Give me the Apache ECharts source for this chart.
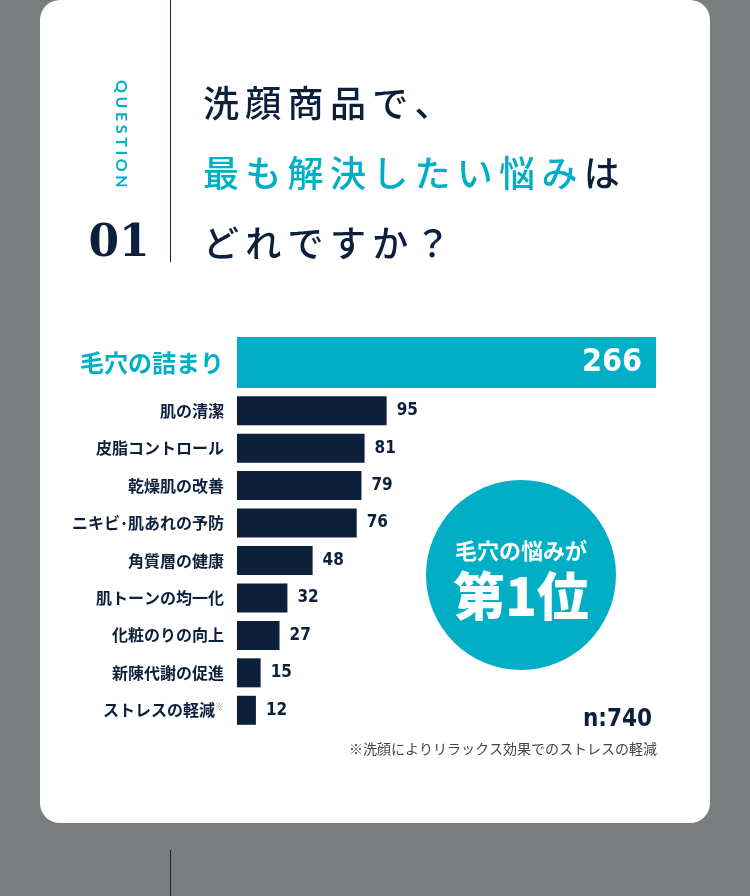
<!DOCTYPE html>
<html><head><meta charset="utf-8">
<script src="https://cdn.jsdelivr.net/npm/echarts@6/dist/echarts.min.js"></script>
<style>html,body{margin:0;padding:0;background:#7a7d7e;}#c{width:750px;height:896px;}</style>
</head><body><div id="c"></div>
<script>
const topCategory = ['毛穴の詰まり'];
const topValue = [266];
const categories = ['肌の清潔','皮脂コントロール','乾燥肌の改善','ニキビ･肌あれの予防','角質層の健康','肌トーンの均一化','化粧のりの向上','新陳代謝の促進','ストレスの軽減※'];
const values = [95,81,79,76,48,32,27,15,12];
const sampleSize = 'n:740';
const footnote = '※洗顔によりリラックス効果でのストレスの軽減';
const questionLabel = 'QUESTION';
const questionNo = '01';
const titleLines = [
  [['洗顔商品で、','navy']],
  [['最も解決したい悩み','teal'],['は','navy']],
  [['どれですか？','navy']]
];
const badgeLines = ['毛穴の悩みが','第1位'];

const TEAL = '#00afc5', NAVY = '#0c1f3b';
const CJK = '"Noto Sans CJK JP", "Noto Sans", sans-serif';
const NARROW = '"DejaVu Sans", sans-serif';
const NARROW_W = 'bold condensed';

const cv = document.createElement('canvas').getContext('2d');
function spaced(str, x, y, font, size, weight, color, spacing, rot) {
  cv.font = weight + ' ' + size + 'px ' + font;
  const els = [];
  let off = 0;
  for (const ch of str) {
    const w = cv.measureText(ch).width;
    const px = rot ? x : x + off;
    const py = rot ? y + off : y;
    els.push({type:'text', x:px, y:py, rotation: rot || 0, z:5,
      style:{text:ch, fill:color, font: weight + ' ' + size + 'px ' + font, align:'left', verticalAlign:'middle'}});
    off += w + spacing;
  }
  return {els, end: off};
}

const graphic = [];
graphic.push({type:'rect', shape:{x:40,y:0,width:670,height:823,r:20}, style:{fill:'#ffffff'}, z:0});
graphic.push({type:'line', shape:{x1:170.5,y1:0,x2:170.5,y2:262}, style:{stroke:NAVY,lineWidth:1}, z:1});
graphic.push({type:'line', shape:{x1:170.5,y1:850,x2:170.5,y2:896}, style:{stroke:NAVY,lineWidth:1}, z:1});
graphic.push(...spaced(questionLabel, 121, 80, 'Lato, "Noto Sans", sans-serif', 16, 'bold', TEAL, 3.6, -Math.PI/2).els);
graphic.push({type:'text', x:119, y:245, z:5, style:{text:questionNo, fill:NAVY, font:'bold 44px "DejaVu Serif", serif', align:'center', verticalAlign:'middle'}});
const lineY = [103, 173, 243];
titleLines.forEach((segs, i) => {
  let x = 203;
  segs.forEach(([s, c]) => {
    const r = spaced(s, x, lineY[i], CJK, 36, '500', c === 'teal' ? TEAL : NAVY, 6.3, 0);
    graphic.push(...r.els);
    x += r.end;
  });
});
graphic.push({type:'circle', shape:{cx:521,cy:575,r:95}, style:{fill:TEAL}, z:3});
graphic.push({type:'text', x:521, y:551, z:5, style:{text:badgeLines[0], fill:'#fff', font:'bold 22px ' + CJK, align:'center', verticalAlign:'middle'}});
graphic.push({type:'text', x:521, y:596, z:5, style:{text:badgeLines[1], fill:'#fff', font:'900 52px ' + CJK, align:'center', verticalAlign:'middle'}});
graphic.push({type:'text', x:652, y:720, z:5, style:{text:sampleSize, fill:NAVY, font:NARROW_W + ' 24px ' + NARROW, align:'right', verticalAlign:'middle'}});
graphic.push({type:'text', x:657, y:749, z:5, style:{text:footnote, fill:'#444', font:'14px ' + CJK, align:'right', verticalAlign:'middle'}});

const chart = echarts.init(document.getElementById('c'));
chart.setOption({
  backgroundColor:'#7a7d7e',
  animation:false,
  graphic: graphic,
  grid:[{left:237, top:337, width:419, height:51},{left:237, top:392, width:419, height:337}],
  xAxis:[
    {gridIndex:0, type:'value', min:0, max:266, show:false},
    {gridIndex:1, type:'value', min:0, max:266, show:false}
  ],
  yAxis:[
    {gridIndex:0, type:'category', data:topCategory, axisLine:{show:false}, axisTick:{show:false},
     axisLabel:{color:TEAL, fontSize:24, fontWeight:'bold', fontFamily:CJK, margin:13}},
    {gridIndex:1, type:'category', data:categories, inverse:true, axisLine:{show:false}, axisTick:{show:false},
     axisLabel:{color:NAVY, fontSize:16, fontWeight:'bold', fontFamily:CJK, margin:13,
       formatter: v => v.endsWith('※') ? v.slice(0,-1) + '{n|※}' : v,
       rich:{n:{fontSize:9, color:'#999', verticalAlign:'top', padding:[0,0,8,0], fontFamily:CJK}}}}
  ],
  series:[
    {type:'bar', xAxisIndex:0, yAxisIndex:0, data:topValue, barWidth:51, itemStyle:{color:TEAL},
     label:{show:true, position:'insideRight', distance:14, color:'#fff', fontSize:32, fontWeight:NARROW_W, fontFamily:NARROW}},
    {type:'bar', xAxisIndex:1, yAxisIndex:1, data:values, barWidth:29, itemStyle:{color:NAVY},
     label:{show:true, position:'right', distance:10, color:NAVY, fontSize:17, fontWeight:NARROW_W, fontFamily:NARROW}}
  ]
});
</script></body></html>
